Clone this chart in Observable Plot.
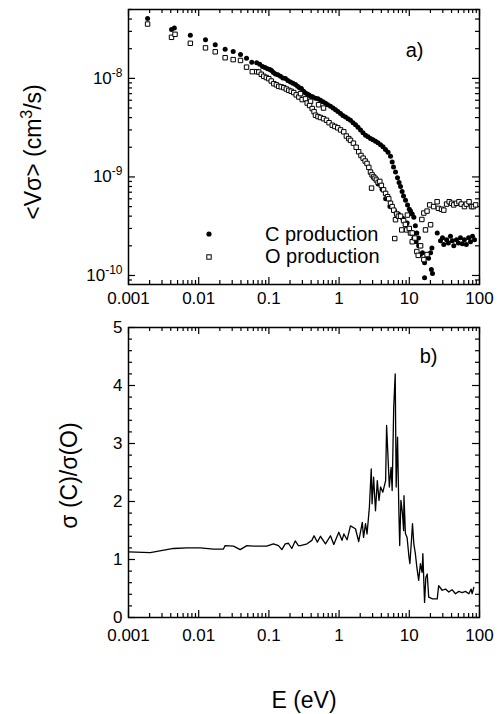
<!DOCTYPE html>
<html><head><meta charset="utf-8">
<script src="https://cdn.jsdelivr.net/npm/d3@7"></script>
<script src="https://cdn.jsdelivr.net/npm/@observablehq/plot@0.6"></script>
<style>
body{margin:0;background:#fff;font-family:"Liberation Sans",Arial,Helvetica,sans-serif;}
#wrap{position:relative;width:500px;height:714px;overflow:hidden;background:#fff;}
.abs{position:absolute;}
.lab{position:absolute;color:#000;white-space:nowrap;}
</style></head><body><div id="wrap"></div>
<script>
// ---------- data ----------
const V_UNIT = 1e-9; // values below are in units of 1e-9 cm^3/s
const cE = [0.00187,0.0041,0.0045,0.0076,0.0125,0.0172,0.0238,0.031,0.0394,0.048,0.057,0.067,0.074,0.081,0.088,0.0955,0.103,0.109,0.116,0.124,0.134,0.146,0.158,0.172,0.186,0.203,0.22,0.239,0.256,0.273,0.29,0.311,0.332,0.355,0.373,0.392,0.42,0.461,0.5,0.543,0.59,0.64,0.69,0.754,0.82,0.889,0.96,1.047,1.13,1.233,1.34,1.453,1.58,1.713,1.86,2.02,2.19,2.38,2.58,2.8,3.04,3.3,3.58,3.89,4.22,4.58,4.98,5.4,5.7,5.96,6.36,6.79,7.15,7.5,7.9,8.27,8.83,9.43,10.0,10.4,11.0,11.6,12.2,12.8,13.5,14.4,15.4,16.5,16.5,18.8,20.1,20.6,21.4,21.0,25.0,
  3.6,4.1,4.6,5.3,6.2,7.0,8.0,9.0,10.0,11.0,12.5,13.6,14.4,11.6,9.3,
  27.8,29.7,31,34,36,38.6,41,43,47,50,53.6,57,61,65,70,74.5,79.5,85];
const cV = [40.6,31.3,32.5,27.4,24.6,21.9,19.8,18.7,17.5,16.0,14.6,14.4,13.9,13.2,12.9,12.5,12.3,12.0,11.5,11.1,10.9,10.5,10.1,9.95,9.5,9.18,8.9,8.69,8.3,8.05,7.9,7.4,7.1,6.9,6.8,6.6,6.5,6.3,6.2,6.0,5.8,5.6,5.4,5.2,5.0,4.8,4.6,4.4,4.2,4.05,3.9,3.75,3.55,3.38,3.2,3.0,2.8,2.65,2.55,2.45,2.38,2.3,2.22,2.12,2.03,1.9,1.78,1.62,1.42,1.26,1.12,0.98,0.88,0.8,0.71,0.64,0.58,0.52,0.47,0.45,0.42,0.39,0.32,0.27,0.24,0.2,0.17,0.135,0.095,0.15,0.17,0.115,0.105,0.19,0.27,
  0.85,0.75,0.6,0.5,0.45,0.42,0.38,0.33,0.3,0.27,0.22,0.2,0.163,0.24,0.34,
  0.225,0.242,0.206,0.231,0.214,0.25,0.225,0.2,0.23,0.214,0.242,0.21,0.23,0.206,0.242,0.22,0.25,0.23];
const oE = [0.00187,0.0041,0.0046,0.0076,0.0125,0.0172,0.0238,0.031,0.0394,0.048,0.058,0.067,0.0718,0.078,0.0846,0.092,0.0997,0.108,0.1175,0.128,0.138,0.15,0.163,0.177,0.192,0.208,0.226,0.245,0.267,0.282,0.298,0.332,0.351,0.392,0.38,0.414,0.44,0.461,0.5,0.51,0.543,0.6,0.6,0.662,0.72,0.798,0.87,0.957,1.05,1.166,1.27,1.374,1.453,1.6,1.75,1.9,2.05,2.2,2.35,2.5,2.65,2.8,2.9,2.95,3.1,3.25,3.4,3.6,3.8,4.0,4.3,4.6,4.9,5.1,5.4,5.7,6.0,6.2,6.36,6.6,7.0,7.5,7.8,8.3,8.8,9.2,9.4,10.0,10.4,11.0,11.0,12.0,12.8,13.4,14.5,15.1,16.1,16.1,17.0,17.9,17.9,19.5,20.1,22.2,24.9,26,28.8,31,34,37,40,43,47,51,55,61,65,71,77,82,88];
const oV = [35.6,26.1,28.0,22.7,20.4,18.6,16.2,15.5,15.2,13.0,11.7,11.7,11.6,11.0,10.5,10.2,9.93,9.4,8.84,8.6,8.3,8.2,8.05,7.8,7.56,7.4,7.18,6.8,6.47,7.0,6.09,6.2,5.62,5.85,5.3,4.94,4.6,4.23,4.1,5.4,4.01,5.0,3.9,3.76,3.55,3.35,3.25,3.15,3.0,2.87,2.6,2.45,2.35,2.2,2.0,1.8,1.65,1.55,1.45,1.37,1.25,1.12,0.77,1.05,1.0,0.97,0.93,0.88,0.9,0.82,0.74,0.68,0.63,0.6,0.54,0.5,0.46,0.237,0.368,0.42,0.4,0.4,0.29,0.36,0.33,0.29,0.41,0.3,0.27,0.27,0.22,0.24,0.175,0.16,0.2,0.37,0.145,0.43,0.29,0.163,0.45,0.52,0.327,0.5,0.56,0.48,0.47,0.46,0.53,0.56,0.54,0.52,0.54,0.56,0.53,0.5,0.53,0.56,0.5,0.5,0.52];
const rE = [0.001,0.00204,0.00438,0.00678,0.0105,0.0163,0.0225,0.0238,0.0313,0.039,0.0485,0.0603,0.075,0.093,0.116,0.137,0.153,0.171,0.19,0.212,0.237,0.263,
  0.282,0.35,0.409,0.44,0.49,0.543,0.64,0.754,0.84,0.99,1.1,1.17,1.3,1.45,1.71,1.9,2.14,2.23,2.38,2.5,2.7,2.87,2.95,3.1,3.3,3.5,3.7,3.9,4.2,4.6,4.75,4.9,5.2,5.5,5.7,6.0,6.3,6.5,6.8,7.1,7.3,7.6,8.0,8.3,8.4,8.8,9.3,9.9,10.2,10.8,11.1,11.6,12.2,12.8,13.6,14.4,15.2,15.6,16.5,17.2,18,18.9,21.4,25,26.2,29.4,32.8,36.5,40.6,45.5,50.6,56.6,63,70.6,76,78.5,83];
const rR = [1.13,1.12,1.19,1.20,1.20,1.18,1.18,1.24,1.23,1.17,1.24,1.23,1.23,1.23,1.27,1.24,1.17,1.27,1.28,1.19,1.32,1.24,
  1.24,1.27,1.33,1.41,1.30,1.40,1.27,1.41,1.26,1.47,1.33,1.44,1.34,1.58,1.53,1.31,1.64,1.38,1.62,1.44,1.90,2.56,1.96,2.42,1.84,2.36,2.02,2.25,2.16,2.36,3.31,2.94,2.25,2.59,2.19,3.63,4.20,2.25,3.11,1.84,1.24,2.02,1.79,1.50,2.10,1.45,1.38,1.04,0.93,1.38,1.62,1.27,1.10,0.87,0.64,0.93,0.78,1.10,0.26,0.69,0.75,0.35,0.32,0.32,0.55,0.47,0.49,0.44,0.48,0.41,0.45,0.43,0.45,0.41,0.49,0.41,0.52];

const xTicks = [0.001,0.01,0.1,1,10,100];
const xTickLabels = ["0.001","0.01","0.1","1","10","100"];
const yTicksTop = [1e-10,1e-9,1e-8];
const yTickBase = "10";
const yTickExp = ["-10","-9","-8"];
const yTicksBot = [0,1,2,3,4,5];
const yTickLabelsBot = ["0","1","2","3","4","5"];
const legendLabels = ["C production","O production"];
const panelLabels = ["a)","b)"];
const yLabelTop = "<V\u03C3> (cm^3^/s)";
const yLabelBot = "\u03C3 (C)/\u03C3(O)";
const xLabel = "E (eV)";

// ---------- derived ----------
const cData = cE.map((e,i)=>({E:e, V:cV[i]*V_UNIT}));
const oData = oE.map((e,i)=>({E:e, V:oV[i]*V_UNIT}));
const rData = rE.map((e,i)=>({E:e, R:rR[i]}));
const minorX = [];
for (const d of [0.001,0.01,0.1,1,10]) for (let k=2;k<=9;k++) minorX.push(k*d);
const minorYTop = [9e-11];
for (const d of [1e-10,1e-9,1e-8]) for (let k=2;k<=9;k++) if (k*d<=5e-8) minorYTop.push(k*d);
const minorYBot = [];
for (let v=0; v<=25; v++) if (v%5) minorYBot.push(v/5);

const W = 500, mL = 128, mR = 21;
const FW = W - mL - mR;
const font = '"Liberation Sans", Arial, Helvetica, sans-serif';

function tickMarks(H, majX, minX, majY, minY) {
  const s = {stroke:"black", strokeWidth:1.2};
  return [
    Plot.ruleX(majX, {insetTop: H-7, ...s}),
    Plot.ruleX(majX, {insetBottom: H-7, ...s}),
    Plot.ruleX(minX, {insetTop: H-4, ...s}),
    Plot.ruleX(minX, {insetBottom: H-4, ...s}),
    Plot.ruleY(majY, {insetRight: FW-7, ...s}),
    Plot.ruleY(majY, {insetLeft: FW-7, ...s}),
    Plot.ruleY(minY, {insetRight: FW-4, ...s}),
    Plot.ruleY(minY, {insetLeft: FW-4, ...s})
  ];
}

// ---------- top panel ----------
const H1t = 310, mT1 = 9, mB1 = 26, FH1 = H1t - mT1 - mB1;
const topPlot = Plot.plot({
  width: W, height: H1t, marginLeft: mL, marginRight: mR, marginTop: mT1, marginBottom: mB1,
  style: {fontFamily: font, fontSize: "17px", color: "black", background: "white"},
  x: {type: "log", domain: [0.001, 100]},
  y: {type: "log", domain: [8.1e-11, 5.0e-8]},
  marks: [
    ...tickMarks(FH1, xTicks, minorX, yTicksTop, minorYTop),
    Plot.frame({stroke: "black", strokeWidth: 1.5}),
    Plot.axisX(xTicks, {tickSize: 0, tickPadding: 7, label: null, tickFormat: d => xTickLabels[xTicks.indexOf(d)]}),
    Plot.axisY(yTicksTop, {tickSize: 0, tickPadding: 6, label: null, tickFormat: d => yTickBase + "^" + yTickExp[yTicksTop.indexOf(d)]}),
    Plot.dot(cData, {x: "E", y: "V", r: 2.5, fill: "black", stroke: "none"}),
    Plot.dot(oData, {x: "E", y: "V", r: 2.5, symbol: "square", fill: "white", stroke: "black", strokeWidth: 1}),
    Plot.text([panelLabels[0]], {frameAnchor: "top-right", dx: -56, dy: 33, fontSize: 20}),
    Plot.text([yLabelTop], {frameAnchor: "left", textAnchor: "middle", lineAnchor: "middle", rotate: -90, dx: -95, dy: 5, fontSize: 23})
  ]
});

// ---------- bottom panel ----------
const H2t = 345, mT2 = 17, mB2 = 38, FH2 = H2t - mT2 - mB2;
const botPlot = Plot.plot({
  width: W, height: H2t, marginLeft: mL, marginRight: mR, marginTop: mT2, marginBottom: mB2,
  style: {fontFamily: font, fontSize: "17px", color: "black", background: "white"},
  x: {type: "log", domain: [0.001, 100]},
  y: {domain: [0, 5]},
  marks: [
    ...tickMarks(FH2, xTicks, minorX, yTicksBot, minorYBot),
    Plot.frame({stroke: "black", strokeWidth: 1.5}),
    Plot.axisX(xTicks, {tickSize: 0, tickPadding: 11, label: null, tickFormat: d => xTickLabels[xTicks.indexOf(d)]}),
    Plot.axisY(yTicksBot, {tickSize: 0, tickPadding: 6, label: null, tickFormat: d => yTickLabelsBot[yTicksBot.indexOf(d)]}),
    Plot.line(rData, {x: "E", y: "R", stroke: "black", strokeWidth: 1.3}),
    Plot.text([panelLabels[1]], {frameAnchor: "top-right", dx: -42, dy: 21, fontSize: 20}),
    Plot.text([yLabelBot], {frameAnchor: "left", textAnchor: "middle", lineAnchor: "middle", rotate: -90, dx: -59, dy: 3, fontSize: 23})
  ]
});

// superscripts: "a^b^c" -> a, raised b, c
const ns = "http://www.w3.org/2000/svg";
function supify(t, supSize, rise) {
  const s = t.textContent;
  if (!s.includes("^")) return;
  const parts = s.split("^");
  t.textContent = "";
  parts.forEach((p, i) => {
    if (!p) return;
    const ts = document.createElementNS(ns, "tspan");
    ts.textContent = p;
    if (i === 1) { ts.setAttribute("dy", -rise); ts.setAttribute("font-size", supSize); }
    if (i === 2) { ts.setAttribute("dy", rise); }
    t.appendChild(ts);
  });
}
topPlot.querySelectorAll('[aria-label="y-axis tick label"] text').forEach(t => supify(t, 12, 7));
topPlot.querySelectorAll('text').forEach(t => { if (t.textContent === yLabelTop) supify(t, 16, 9); });

const wrap = document.getElementById("wrap");
topPlot.classList.add("abs"); topPlot.style.left = "0px"; topPlot.style.top = "0px";
botPlot.classList.add("abs"); botPlot.style.left = "0px"; botPlot.style.top = "310px";
wrap.appendChild(topPlot);
wrap.appendChild(botPlot);

// legend (HTML overlay)
const legendItems = [
  {label: legendLabels[0], sym: '<svg width="10" height="10" style="position:absolute;left:204px;top:229px"><circle cx="5" cy="5" r="2.6" fill="black"/></svg>', ty: 234},
  {label: legendLabels[1], sym: '<svg width="10" height="10" style="position:absolute;left:204px;top:252px"><rect x="2.8" y="2.8" width="4.4" height="4.4" fill="white" stroke="black" stroke-width="1"/></svg>', ty: 256}
];
for (const l of legendItems) {
  wrap.insertAdjacentHTML("beforeend", l.sym);
  const d = document.createElement("div");
  d.className = "lab";
  d.style.left = "265px"; d.style.top = (l.ty - 12) + "px";
  d.style.fontSize = "20px"; d.style.lineHeight = "24px";
  d.textContent = l.label;
  wrap.appendChild(d);
}
const xl = document.createElement("div");
xl.className = "lab";
xl.style.left = "0px"; xl.style.width = "608px"; xl.style.textAlign = "center";
xl.style.top = "686px"; xl.style.fontSize = "23px"; xl.style.lineHeight = "28px";
xl.textContent = xLabel;
wrap.appendChild(xl);
</script></body></html>
